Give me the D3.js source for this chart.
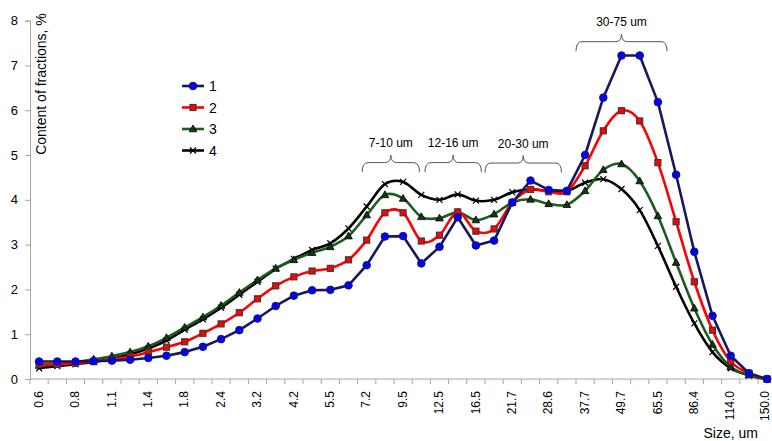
<!DOCTYPE html>
<html>
<head>
<meta charset="utf-8">
<script src="https://cdn.jsdelivr.net/npm/d3@7"></script>
<style>
  html, body { margin: 0; padding: 0; background: #fff; }
  svg { display: block; font-family: Arial, "Liberation Sans", sans-serif; }
</style>
</head>
<body>
<svg id="chart" width="772" height="441"></svg>
<script>
// ---------- data ----------
const categories = ["0.6","0.7","0.8","0.9","1.1","1.2","1.4","1.6","1.8","2.1","2.4","2.8","3.2","3.7","4.2","4.8","5.5","6.3","7.2","8.3","9.5","10.9","12.5","14.3","16.5","18.9","21.7","24.9","28.6","32.8","37.7","43.3","49.7","57.1","65.5","75.2","86.4","99.2","114.0","130.9","150.0"];
const tickLabels = ["0.6","0.8","1.1","1.4","1.8","2.4","3.2","4.2","5.5","7.2","9.5","12.5","16.5","21.7","28.6","37.7","49.7","65.5","86.4","114.0","150.0"];
const yTicks = [0,1,2,3,4,5,6,7,8];
const seriesNames = ["1","2","3","4"];
const series1 = [0.39,0.39,0.39,0.40,0.41,0.43,0.47,0.52,0.60,0.72,0.89,1.09,1.35,1.63,1.86,1.98,1.99,2.09,2.54,3.18,3.19,2.58,2.95,3.61,2.98,3.09,3.94,4.43,4.22,4.20,5.00,6.28,7.22,7.22,6.18,4.56,2.84,1.41,0.52,0.13,0.00];
const series2 = [0.33,0.33,0.35,0.39,0.44,0.50,0.60,0.71,0.83,1.02,1.23,1.48,1.79,2.08,2.28,2.41,2.47,2.66,3.10,3.71,3.71,3.08,3.21,3.73,3.30,3.35,3.94,4.23,4.18,4.18,4.76,5.54,5.99,5.76,4.83,3.51,2.17,1.09,0.39,0.13,0.00];
const series3 = [0.30,0.33,0.38,0.44,0.51,0.60,0.73,0.92,1.15,1.38,1.64,1.93,2.21,2.47,2.66,2.82,2.95,3.19,3.66,4.11,4.03,3.62,3.59,3.72,3.55,3.68,3.94,4.01,3.91,3.89,4.20,4.67,4.80,4.42,3.64,2.60,1.58,0.77,0.27,0.09,0.00];
const series4 = [0.24,0.29,0.33,0.38,0.45,0.55,0.68,0.86,1.10,1.33,1.59,1.88,2.17,2.46,2.68,2.88,3.03,3.36,3.85,4.35,4.40,4.11,4.00,4.12,3.98,4.00,4.17,4.23,4.20,4.20,4.38,4.46,4.24,3.77,2.97,2.06,1.24,0.60,0.24,0.08,0.00];
// annotations: label, start / end position in category units, value level of brace
const braceLabels = ["7-10 um","12-16 um","20-30 um","30-75 um"];
const braceStart = [18.25, 21.7, 25.0, 30.0];
const braceEnd   = [21.4, 24.8, 29.2, 35.0];
const braceLevel = [4.83, 4.83, 4.82, 7.53];

(function () {
// ---------- layout ----------
const svg = d3.select("#chart");
const W = 772;
const plotLeft = 30, plotTop = 20.6, plotBottom = 379;
const step = 18.2;
const plotRight = plotLeft + step * categories.length;

const x = d3.scaleBand().domain(categories).range([plotLeft, plotRight]).paddingInner(0).paddingOuter(0);
const cx = c => x(c) + x.bandwidth() / 2;
const y = d3.scaleLinear().domain([0, 8]).range([plotBottom, plotTop]);
const pos = d3.scaleLinear().domain([0, categories.length]).range([plotLeft, plotRight]); // category units

const axisColor = "#a6a6a6";

// y axis
const yAxis = svg.append("g").attr("transform", `translate(${plotLeft},0)`)
  .call(d3.axisLeft(y).tickValues(yTicks).tickSize(5).tickPadding(7).tickFormat(d3.format("d")));
yAxis.select(".domain").attr("stroke", axisColor).attr("stroke-width", 1);
yAxis.selectAll(".tick line").attr("stroke", axisColor);
yAxis.selectAll(".tick text").attr("font-size", 13).attr("fill", "#000")
  .attr("font-family", "Arial, 'Liberation Sans', sans-serif");

// x axis line + boundary ticks
const xg = svg.append("g");
xg.append("line").attr("x1", plotLeft).attr("x2", plotRight).attr("y1", plotBottom).attr("y2", plotBottom)
  .attr("stroke", axisColor).attr("stroke-width", 1);
const bounds = d3.range(categories.length + 1);
xg.selectAll("line.bt").data(bounds).enter().append("line").attr("class", "bt")
  .attr("x1", d => pos(d)).attr("x2", d => pos(d)).attr("y1", plotBottom).attr("y2", plotBottom + 5)
  .attr("stroke", axisColor).attr("stroke-width", 1);
const xAxis = svg.append("g").attr("transform", `translate(0,${plotBottom})`)
  .call(d3.axisBottom(x).tickValues(tickLabels).tickSize(0).tickPadding(0));
xAxis.select(".domain").remove();
xAxis.selectAll(".tick").each(function (d) {
  const t = d3.select(this).select("text");
  const tx = cx(d);
  // keep the rotated label inside the picture
  const half = 6.5;
  const shift = Math.min(0, (W - 0.5) - (tx + half));
  t.attr("font-size", 12).attr("fill", "#000")
    .attr("font-family", "Arial, 'Liberation Sans', sans-serif")
    .attr("text-anchor", "end")
    .attr("transform", `translate(${shift - 0.5},12) rotate(-90)`)
    .attr("x", 0).attr("y", 0).attr("dy", "0.35em");
});

// axis titles
svg.append("text").attr("transform", "translate(46,84) rotate(-90)")
  .attr("text-anchor", "middle").attr("font-size", 14).text("Content of fractions, %");
svg.append("text").attr("x", 758).attr("y", 438).attr("text-anchor", "end")
  .attr("font-size", 14).text("Size, um");

// ---------- series ----------
const specs = [
  {name: seriesNames[0], values: series1, line: "#17175e", curve: d3.curveLinear, marker: "circle", fill: "#0000ff", mstroke: "#17175e"},
  {name: seriesNames[1], values: series2, line: "#ff0000", curve: d3.curveCatmullRom.alpha(0), marker: "square", fill: "#ff0000", mstroke: "#3a3a3a"},
  {name: seriesNames[2], values: series3, line: "#1d5c1d", curve: d3.curveCatmullRom.alpha(0), marker: "triangle", fill: "#143814", mstroke: "#000"},
  {name: seriesNames[3], values: series4, line: "#000000", curve: d3.curveCatmullRom.alpha(0), marker: "cross", fill: "none", mstroke: "#000"}
];

function drawMarker(g, type, px, py, fill, stroke) {
  if (type === "circle") {
    g.append("circle").attr("cx", px).attr("cy", py).attr("r", 3.8)
      .attr("fill", fill).attr("stroke", stroke).attr("stroke-width", 1);
  } else if (type === "square") {
    g.append("rect").attr("x", px - 3).attr("y", py - 3).attr("width", 6).attr("height", 6)
      .attr("fill", fill).attr("stroke", stroke).attr("stroke-width", 1.2);
  } else if (type === "triangle") {
    g.append("path").attr("d", `M${px},${py-4}L${px+3.8},${py+2.8}L${px-3.8},${py+2.8}Z`)
      .attr("fill", fill).attr("stroke", stroke).attr("stroke-width", 0.8);
  } else {
    g.append("path").attr("d", `M${px-3},${py-3}L${px+3},${py+3}M${px-3},${py+3}L${px+3},${py-3}`)
      .attr("fill", "none").attr("stroke", stroke).attr("stroke-width", 1.2);
  }
}

// draw from 4 to 1 so series 1 is on top
[3, 2, 1, 0].forEach(k => {
  const s = specs[k];
  const line = d3.line().x((d, i) => cx(categories[i])).y(d => y(d)).curve(s.curve);
  const g = svg.append("g");
  g.append("path").datum(s.values).attr("d", line)
    .attr("fill", "none").attr("stroke", s.line).attr("stroke-width", 2.6)
    .attr("stroke-linejoin", "round");
  s.values.forEach((v, i) => drawMarker(g, s.marker, cx(categories[i]), y(v), s.fill, s.mstroke));
});

// ---------- legend ----------
const lg = svg.append("g");
const legendY = [86, 107.5, 129, 150.5];
specs.forEach((s, k) => {
  const ly = legendY[k];
  lg.append("line").attr("x1", 182).attr("x2", 204).attr("y1", ly).attr("y2", ly)
    .attr("stroke", s.line).attr("stroke-width", 2.6);
  drawMarker(lg, s.marker, 193, ly, s.fill, s.mstroke);
  lg.append("text").attr("x", 209).attr("y", ly + 5).attr("font-size", 14).text(s.name);
});

// ---------- braces ----------
const bg = svg.append("g");
braceLabels.forEach((lab, k) => {
  const x1 = pos(braceStart[k]), x2 = pos(braceEnd[k]), xm = (x1 + x2) / 2;
  const yt = y(braceLevel[k]);
  const yb = yt + 9.5, yc = yt - 7.5, r = 6;
  const d = `M${x1},${yb} Q${x1},${yt} ${x1 + r},${yt} L${xm - r},${yt} Q${xm},${yt} ${xm},${yc} ` +
            `Q${xm},${yt} ${xm + r},${yt} L${x2 - r},${yt} Q${x2},${yt} ${x2},${yb}`;
  bg.append("path").attr("d", d).attr("fill", "none").attr("stroke", "#555").attr("stroke-width", 1);
  bg.append("text").attr("x", xm).attr("y", yc - 8).attr("text-anchor", "middle")
    .attr("font-size", 12).text(lab);
});
})();
</script>
</body>
</html>
